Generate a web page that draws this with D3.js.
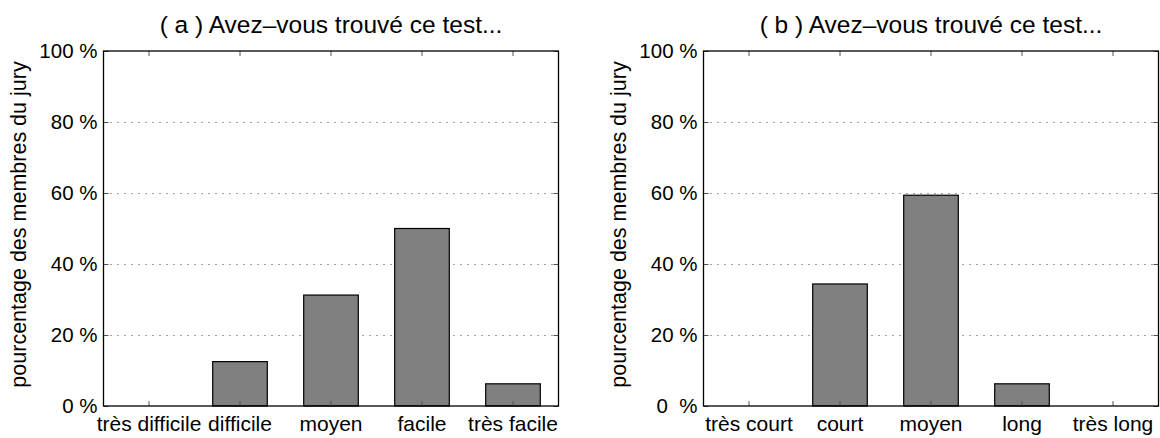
<!DOCTYPE html>
<html>
<head>
<meta charset="utf-8">
<script src="https://cdn.jsdelivr.net/npm/d3@7"></script>
<style>
  body { margin: 0; background: #fff; }
  text { font-family: "Liberation Sans", Arial, Helvetica, sans-serif; fill: #000; }
</style>
</head>
<body>
<div id="container"></div>
<script>
// data (percent of jury members)
var difficultyCats = ["très difficile", "difficile", "moyen", "facile", "très facile"];
var difficultyVals = [0, 12.5, 31.25, 50, 6.25];

var lengthCats = ["très court", "court", "moyen", "long", "très long"];
var lengthVals = [0, 34.375, 59.375, 6.25, 0];

var yTicks = [0, 20, 40, 60, 80, 100];
var gridTicks = [20, 40, 60, 80];
var yLabel = "pourcentage des membres du jury";

var svg = d3.select("#container").append("svg")
            .attr("width", 1160).attr("height", 438);

var plotW = 455, plotH = 355, plotTop = 51;

function drawPanel(left, title, cats, vals, zeroLabel) {
  var g = svg.append("g").attr("transform", "translate(" + left + "," + plotTop + ")");

  var x = d3.scaleBand().domain(cats).range([0, plotW])
            .paddingInner(0.4).paddingOuter(0.2);
  var y = d3.scaleLinear().domain([0, 100]).range([plotH, 0]);

  // dotted horizontal grid
  g.append("g").selectAll("line").data(gridTicks).enter().append("line")
   .attr("x1", 0).attr("x2", plotW)
   .attr("y1", function(d){ return Math.round(y(d)) + 0.5; })
   .attr("y2", function(d){ return Math.round(y(d)) + 0.5; })
   .attr("stroke", "#444").attr("stroke-width", 1)
   .attr("stroke-dasharray", "1,6");

  // bars
  g.append("g").selectAll("rect").data(vals).enter().append("rect")
   .attr("x", function(d, i){ return x(cats[i]); })
   .attr("y", function(d){ return y(d); })
   .attr("width", x.bandwidth())
   .attr("height", function(d){ return plotH - y(d); })
   .attr("fill", "#808080").attr("stroke", "#000").attr("stroke-width", 1.2)
   .style("display", function(d){ return d > 0 ? null : "none"; });

  // y axis with labels (ticks pointing inward)
  var yAxis = g.append("g")
     .call(d3.axisLeft(y).tickValues(yTicks).tickSize(-5).tickPadding(6)
           .tickFormat(function(d){ return d === 0 ? zeroLabel : d + " %"; }));
  yAxis.selectAll("text").attr("font-size", 20.5).style("white-space", "pre")
       .attr("font-family", "Liberation Sans, Arial, sans-serif");

  g.append("g").attr("transform", "translate(" + plotW + ",0)")
   .call(d3.axisRight(y).tickValues(yTicks).tickSize(-5).tickFormat(""));

  // x axis
  var xAxis = g.append("g").attr("transform", "translate(0," + plotH + ")")
     .call(d3.axisBottom(x).tickSize(-5).tickPadding(10));
  xAxis.selectAll("text").attr("font-size", 21)
       .attr("font-family", "Liberation Sans, Arial, sans-serif");

  g.append("g").call(d3.axisTop(x).tickSize(-5).tickFormat(""));

  g.selectAll(".domain").remove();
  g.selectAll(".tick line").attr("stroke", "#555");

  // box
  g.append("rect").attr("x", 0).attr("y", 0)
   .attr("width", plotW).attr("height", plotH)
   .attr("fill", "none").attr("stroke", "#000").attr("stroke-width", 1.3);

  // title
  g.append("text").attr("x", plotW / 2).attr("y", -18)
   .attr("text-anchor", "middle").attr("font-size", 24.5)
   .text(title);

  // y label
  g.append("text")
   .attr("transform", "translate(-78," + (plotH / 2 - 4) + ") rotate(-90)")
   .attr("text-anchor", "middle").attr("font-size", 21.5)
   .text(yLabel);
}

drawPanel(103.5, "( a ) Avez\u2013vous trouvé ce test...", difficultyCats, difficultyVals, "0 %");
drawPanel(703.5, "( b ) Avez\u2013vous trouvé ce test...", lengthCats, lengthVals, "0  %");
</script>
</body>
</html>
